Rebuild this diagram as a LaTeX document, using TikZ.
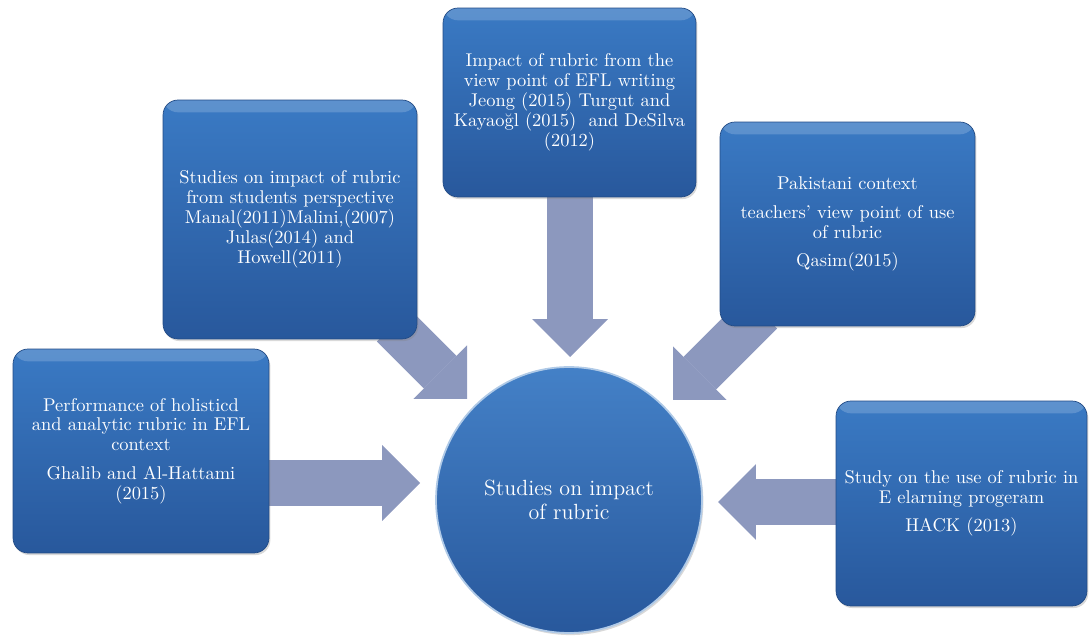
\documentclass[tikz,border=0pt]{standalone}
\usepackage{fontspec}
\usetikzlibrary{arrows.meta,backgrounds,shadows}

\definecolor{boxtop}{RGB}{58,122,196}
\definecolor{boxbot}{RGB}{40,88,156}
\definecolor{arrowfill}{RGB}{140,152,190}

\begin{document}
\begin{tikzpicture}[x=0.02cm, y=-0.02cm,
	box/.style={rectangle, rounded corners=0.3cm, top color=boxtop, bottom color=boxbot,
		draw=boxbot!85!black, line width=0.4pt, inner sep=0pt,
		drop shadow={opacity=0.3, shadow xshift=0.8pt, shadow yshift=-1.2pt},
		path picture={\fill[white, opacity=0.18] (path picture bounding box.north west) rectangle ([yshift=-7pt]path picture bounding box.north east);},
		text=white, align=center, font=\fontsize{10.5}{11.3}\selectfont},
	hub/.style={circle, minimum size=5.32cm, inner sep=0pt, top color=boxtop!95!white, bottom color=boxbot,
		draw=white!60!boxtop, line width=1pt,
		drop shadow={opacity=0.3, shadow xshift=0.8pt, shadow yshift=-1.2pt},
		text=white, align=center, font=\fontsize{12.5}{13.5}\selectfont},
	blockarrow/.style={draw=arrowfill, line width=0.92cm, shorten <=-0.4cm,
		-{Triangle[length=0.76cm, width=1.52cm, line width=0pt]}}]
			%%%%% START %%%%%
			
			\useasboundingbox (0,0) rectangle (1089,641);
			
			\node[box, minimum width=5.06cm, minimum height=3.78cm] (viewpoint) at (569.5,102.5)
				{Impact of rubric from the\\ view point of EFL writing\\ Jeong (2015) Turgut and\\ Kayaoğl (2015) \ and DeSilva\\ (2012)};
			\node[box, minimum width=5.08cm, minimum height=4.78cm] (students) at (290,219.5)
				{Studies on impact of rubric\\ from students perspective\\ Manal(2011)Malini,(2007)\\ Julas(2014) and\\ Howell(2011)};
			\node[box, minimum width=5.1cm, minimum height=4.08cm] (pakistan) at (847.5,224)
				{Pakistani context\\[5pt] teachers' view point of use\\ of rubric\\[5pt] Qasim(2015)};
			\node[box, minimum width=5.12cm, minimum height=4.08cm] (holistic) at (141,451)
				{Performance of holisticd\\ and analytic rubric in EFL\\ context\\[5pt] Ghalib and Al-Hattami\\ (2015)};
			\node[box, minimum width=5.02cm, minimum height=4.1cm] (elearning) at (961.5,503.5)
				{Study on the use of rubric in\\ E elarning progeram\\[5pt] HACK (2013)};
			
			\node[hub] (hub) at (569,500) {Studies on impact\\ of rubric};
			
			\coordinate (tipT) at (570,357);
			\coordinate (tipUL) at (467,399);
			\coordinate (tipUR) at (673,400);
			\coordinate (tipL) at (420,483);
			\coordinate (tipR) at (718,502);
			
			\begin{pgfonlayer}{background}
			\draw[blockarrow] (viewpoint.south -| tipT) -- (tipT);
			\draw[blockarrow] ([xshift=-0.2cm]students.south east) -- (tipUL);
			\draw[blockarrow] ([xshift=0.54cm]pakistan.south west) -- (tipUR);
			\draw[blockarrow] (holistic.east |- tipL) -- (tipL);
			\draw[blockarrow] (elearning.west |- tipR) -- (tipR);
			\end{pgfonlayer}
			
			%%%%% END %%%%%
\end{tikzpicture}
\end{document}
